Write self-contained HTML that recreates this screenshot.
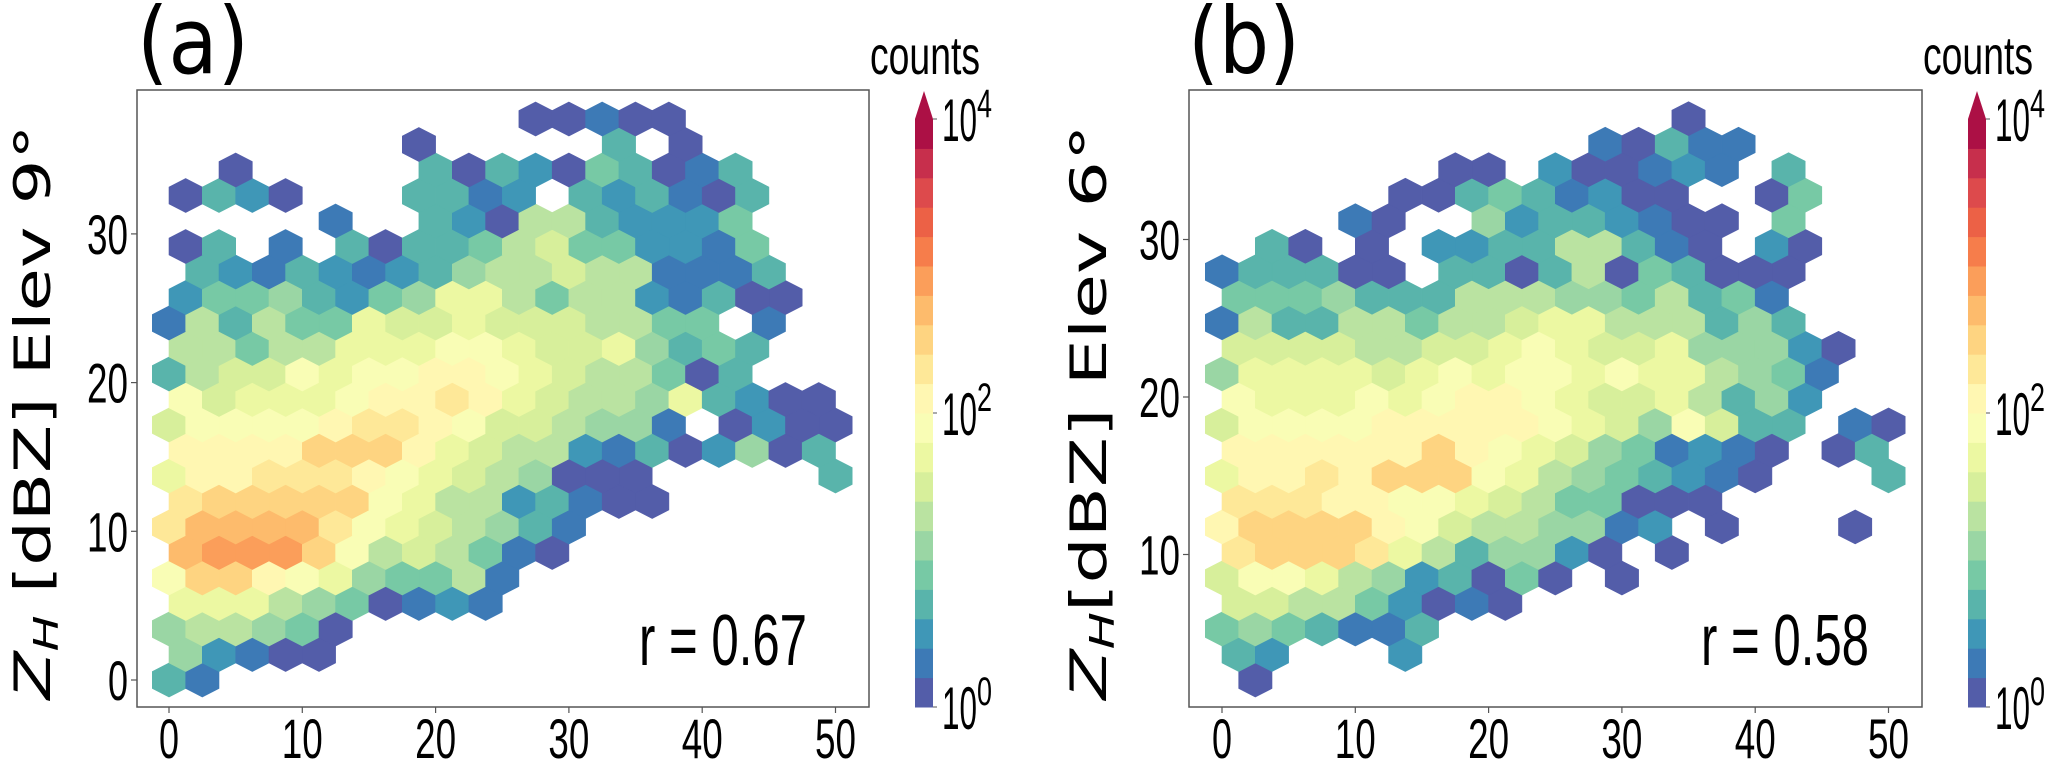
<!DOCTYPE html>
<html><head><meta charset="utf-8"><style>
html,body{margin:0;padding:0;background:#fff;}
svg{display:block;}
</style></head><body>
<svg id="chart" width="2067" height="771" viewBox="0 0 2067 771" xmlns="http://www.w3.org/2000/svg"></svg>
<script>
// ===== data: hexbin count levels (0..19 = 10^0 .. 10^4 in 0.2-decade steps), rows from bottom =====
const levelChars = "0123456789abcdefghij";
const rowsA = [
"31",
"52100",
"566540",
"8886540121",
"9cca9854461",
"deeec9676410",
"bddddb9876531",
"bccccc986623100",
"8aabbba98765000.....3",
"aaaaccca876621302503",
"79999abba9776551.0200",
"978889aaba8766583200",
"36779899aa98766403",
"664668889987785343",
"16364487787776644.1",
"2445324588646621300",
".321321235667661113",
"03.1.3033467442214",
".....1..3206632224",
"0320...3312.323103",
"..0.....3032043013",
".......0.....3.0",
"...........00100"
];
const rowsB = [
".0",
"32...2",
"4543113",
"776642010",
"79986523040.0",
"bcccb8635520.0",
"acccca97665512.0...0",
"bbbaa9987644000",
"8aabaccc986543210...3",
"aaaaaaca987541210.03",
"79999aaaaa98759733.10",
"9888989aa987786352",
"5888878989989886541",
"7777667789877855520",
"163366466788666353",
"44453336665546341",
"133300.33036043000",
".30.0.223366310.20",
"....10..52332100.4",
".....003431200..04",
".......00.200121.3",
"...........10311",
"..............0"
];
const xTicks = [0,10,20,30,40,50];
const yTicksA = [0,10,20,30];
const yTicksB = [10,20,30];
const cbarLevels = 20;
const cbarTickExp = [0,2,4];
const rValueA = "r = 0.67";
const rValueB = "r = 0.58";

const NS = "http://www.w3.org/2000/svg";
const svg = document.getElementById('chart');
function mk(tag, attrs, parent){const e=document.createElementNS(NS,tag);for(const k in attrs)e.setAttribute(k,attrs[k]);(parent||svg).appendChild(e);return e;}

const spectral = ["#9e0142","#d53e4f","#f46d43","#fdae61","#fee08b","#ffffbf","#e6f598","#abdda4","#66c2a5","#3288bd","#5e4fa2"].reverse();
function hex2rgb(h){return [parseInt(h.substr(1,2),16),parseInt(h.substr(3,2),16),parseInt(h.substr(5,2),16)];}
function cmap(t){const n=spectral.length-1;const p=Math.min(Math.max(t,0),1)*n;const i=Math.min(Math.floor(p),n-1);const f=p-i;
 const a=hex2rgb(spectral[i]),b=hex2rgb(spectral[i+1]);return "rgb("+a.map((v,k)=>Math.round(v+(b[k]-v)*f)).join(",")+")";}
function levelColor(l){return cmap((l+0.5)/cbarLevels);}

const panels = [
 {id:'a', rows:rowsA, left:137, right:869, top:90, bottom:707, x0:169, xs:13.33, y0:680, ys:14.87, rowY0:0, dy:1.715, dx:2.5,
  yTicks:yTicksA, cbX:915, label:'(a)', labelX:137, title:'9°', titleX:33, titleGap:' ', r:rValueA, rX:639},
 {id:'b', rows:rowsB, left:1189, right:1922, top:90, bottom:707, x0:1222, xs:13.33, y0:712, ys:15.75, rowY0:2.03, dy:1.62, dx:2.5,
  yTicks:yTicksB, cbX:1968, label:'(b)', labelX:1188, title:'6°', titleX:1089, titleGap:'', r:rValueB, rX:1701}
];

panels.forEach(P=>{
 const g = mk('g',{});
 
 
 const X = v => P.x0 + P.xs*v;
 const Y = v => P.y0 - P.ys*v;
 const lab = mk('text',{x:P.labelX,y:73,'font-family':'DejaVu Sans, Liberation Sans, sans-serif','font-size':92,textLength:112,lengthAdjust:'spacingAndGlyphs',fill:'#000'},g);
 lab.textContent = P.label;
 
 
 const bg = mk('rect',{x:P.left,y:P.top,width:P.right-P.left,height:P.bottom-P.top,fill:'#fff'},g);
 
 
 const hg = mk('g',{},g);
 
 
 const w = P.dx*P.xs/2, h = P.dy*(2/3)*P.ys;
 P.rows.forEach((row,r)=>{
  for(let c=0;c<row.length;c++){
   const ch=row[c]; const lv=levelChars.indexOf(ch); if(lv<0) continue;
   const dxv = c*P.dx + (r%2? P.dx/2:0);
   const dyv = P.rowY0 + r*P.dy;
   const cx = X(dxv), cy = Y(dyv);
   const pts = [[cx,cy-h],[cx+w,cy-h/2],[cx+w,cy+h/2],[cx,cy+h],[cx-w,cy+h/2],[cx-w,cy-h/2]].map(p=>p[0].toFixed(1)+','+p[1].toFixed(1)).join(' ');
   const col = levelColor(lv);
   const hx = mk('polygon',{points:pts,fill:col,stroke:col,'stroke-width':0.6},hg);
   
   
  }
 });
 const fr = mk('rect',{x:P.left,y:P.top,width:P.right-P.left,height:P.bottom-P.top,fill:'none',stroke:'#555','stroke-width':1.5},g);
 
 
 xTicks.forEach(t=>{
  const x=X(t);
  mk('line',{x1:x,x2:x,y1:P.bottom,y2:P.bottom+6,stroke:'#555','stroke-width':1.2},g);
  const tl = mk('text',{x:x,y:758,'text-anchor':'middle','font-family':'Liberation Sans, sans-serif','font-size':56,textLength:String(t).length>1?41:20,lengthAdjust:'spacingAndGlyphs'},g);
  tl.textContent = t;
  
  
 });
 P.yTicks.forEach(t=>{
  const y=Y(t);
  mk('line',{x1:P.left-6,x2:P.left,y1:y,y2:y,stroke:'#555','stroke-width':1.2},g);
  const len = String(t).length>1?41:20;
  const tl = mk('text',{x:P.left-9-len,y:y+20,'font-family':'Liberation Sans, sans-serif','font-size':56,textLength:len,lengthAdjust:'spacingAndGlyphs'},g);
  tl.textContent = t;
  
  
 });
 const tt = mk('text',{x:0,y:0,'text-anchor':'middle','font-family':'DejaVu Sans, Liberation Sans, sans-serif','font-size':50,transform:'translate('+(P.titleX+17)+',412) rotate(-90)',textLength:575,lengthAdjust:'spacingAndGlyphs'},g);
 
 
 const s1=mk('tspan',{'font-style':'italic'},tt); s1.textContent='Z';
 const s2=mk('tspan',{'font-style':'italic','font-size':34,dy:8},tt); s2.textContent='H';
 const s3=mk('tspan',{dy:-8},tt); s3.textContent=P.titleGap+'[dBZ] Elev '+P.title;
 const rt = mk('text',{x:P.rX,y:665,'font-family':'Liberation Sans, sans-serif','font-size':72,textLength:168,lengthAdjust:'spacingAndGlyphs'},g);
 rt.textContent = P.r;
 
 
 const cg = mk('g',{},g);
 
 
 const cbTop=119, cbBot=707, cbW=18, bh=(cbBot-cbTop)/cbarLevels;
 for(let i=0;i<cbarLevels;i++){
  const b = mk('rect',{x:P.cbX,y:cbBot-(i+1)*bh,width:cbW,height:bh+0.5,fill:levelColor(i)},cg);
  
  
 }
 const tri = mk('polygon',{points:P.cbX+','+cbTop+' '+(P.cbX+cbW)+','+cbTop+' '+(P.cbX+cbW/2)+',91',fill:levelColor(cbarLevels-1)},cg);
 
 
 cbarTickExp.forEach(e=>{
  const y = cbBot - (e/4)*(cbBot-cbTop);
  mk('line',{x1:P.cbX+cbW,x2:P.cbX+cbW+4,y1:y,y2:y,stroke:'#555','stroke-width':1},cg);
  const t = mk('text',{x:P.cbX+cbW+9,y:y+22,'font-family':'Liberation Sans, sans-serif','font-size':60},cg);
  
  
  const a=mk('tspan',{textLength:35,lengthAdjust:'spacingAndGlyphs'},t); a.textContent='10';
  const b=mk('tspan',{'font-size':40,dy:-24,textLength:15,lengthAdjust:'spacingAndGlyphs'},t); b.textContent=e;
 });
 const ct = mk('text',{x:P.cbX-45,y:74,'font-family':'Liberation Sans, sans-serif','font-size':54,textLength:110,lengthAdjust:'spacingAndGlyphs'},cg);
 ct.textContent='counts';
 
 
});
</script>
</body></html>
